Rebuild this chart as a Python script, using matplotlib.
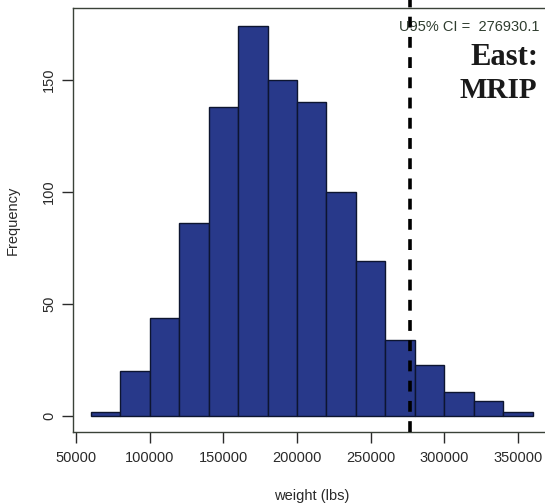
import matplotlib
matplotlib.use("Agg")
import matplotlib.pyplot as plt
import numpy as np

bin_edges = [60000, 80000, 100000, 120000, 140000, 160000, 180000, 200000,
             220000, 240000, 260000, 280000, 300000, 320000, 340000, 360000]
counts = [2, 20, 44, 86, 138, 174, 150, 140, 100, 69, 34, 23, 11, 7, 2]
u95 = 276930.1
x_ticks = [50000, 100000, 150000, 200000, 250000, 300000, 350000]
y_ticks = [0, 50, 100, 150]

plt.rcParams['font.family'] = ['Liberation Sans', 'DejaVu Sans']

fig = plt.figure(figsize=(5.45, 5.04), dpi=100)
ax = fig.add_axes([0.134, 0.143, 0.876, 0.841])

widths = np.diff(bin_edges)
ax.bar(bin_edges[:-1], counts, width=widths, align='edge',
       color='#28398a', edgecolor='#0d1530', linewidth=1.0)

ax.set_xlim(48000, 372000)
ax.set_ylim(-7, 182)

ax.axvline(u95, ymin=0, ymax=1.03, color='black', lw=2.6,
           linestyle=(0, (3.0, 2.6)), clip_on=False, zorder=5)

ax.set_xticks(x_ticks)
ax.set_xticklabels([str(v) for v in x_ticks])
ax.set_yticks(y_ticks)
ax.set_yticklabels([str(v) for v in y_ticks], rotation=90, va='center')
ax.tick_params(axis='both', direction='out', length=8, width=1,
               colors='#2a2a2a', labelsize=10.5, pad=6)
ax.tick_params(axis='y', pad=4)

for s in ax.spines.values():
    s.set_color('#3a4238')
    s.set_linewidth(1.0)

ax.set_xlabel('weight (lbs)', fontsize=10.5, color='#2a2a2a', labelpad=17)
ax.set_ylabel('Frequency', fontsize=10.5, color='#2a2a2a', labelpad=16)

ax.text(269500, 173.5, 'U95% CI =  276930.1', fontsize=10.5, color='#2f3d2f',
        ha='left', va='center')
ax.text(0.988, 0.886, 'East:', transform=fig.transFigure, fontsize=22,
        fontweight='bold', family='Liberation Serif', ha='right', va='center',
        color='#1a1a1a')
ax.text(0.986, 0.82, 'MRIP', transform=fig.transFigure, fontsize=21,
        fontweight='bold', family='Liberation Serif', ha='right', va='center',
        color='#1a1a1a')

fig.savefig('out.png', dpi=100)
